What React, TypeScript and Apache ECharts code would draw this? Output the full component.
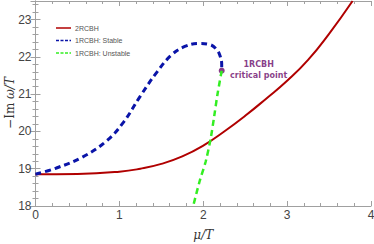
import React, { useEffect, useRef } from "react";
import * as echarts from "echarts";

const red2RCBH: [number, number][] = [
  [0, 18.85], [0.5, 18.86], [1, 18.92], [1.25, 19.0],
  [1.5, 19.13], [1.75, 19.33], [2, 19.62], [2.25, 20.0], [2.5, 20.42], [2.75, 20.88],
  [3, 21.36], [3.25, 21.92], [3.5, 22.62], [3.78, 23.5],
];
const blueStable: [number, number][] = [
  [0, 18.85], [0.25, 19.02], [0.55, 19.3], [0.85, 19.75], [1.05, 20.25], [1.25, 20.95],
  [1.45, 21.6], [1.62, 22.05], [1.78, 22.28], [1.95, 22.36], [2.08, 22.33], [2.16, 22.2],
  [2.2, 22.03], [2.22, 21.8], [2.22, 21.63],
];
const greenUnstable: [number, number][] = [
  [2.22, 21.63], [2.17, 21.0], [2.13, 20.4], [2.09, 19.83], [2.03, 19.2], [1.96, 18.69], [1.88, 18.0],
];
const criticalPoint: [number, number][] = [[2.22, 21.63]];
const legendNames = ["2RCBH", "1RCBH: Stable", "1RCBH: Unstable"];
const legendColors = ["#b00000", "#0a14a8", "#33ee22"];

export default function App() {
  const ref = useRef<HTMLDivElement>(null);
  useEffect(() => {
    const chart = echarts.init(ref.current!, null, { renderer: "svg" });
    const frame = { lineStyle: { color: "#a0a0a0", width: 1 } };
    const tick = { inside: true, length: 5, lineStyle: { color: "#a0a0a0" } };
    const minor = { show: true, splitNumber: 5, length: 3, lineStyle: { color: "#a0a0a0" } };
    const lbl = { color: "#444", fontSize: 12, fontFamily: "Liberation Sans" };
    const graphics: any[] = [];
    legendNames.forEach((n, i) => {
      const y = 28 + i * 12.5;
      graphics.push({
        type: "line",
        shape: { x1: 56, y1: y, x2: 71, y2: y },
        style: {
          stroke: legendColors[i],
          lineWidth: 1.5,
          lineDash: i === 0 ? null : [3, 1.5],
        },
      });
      graphics.push({
        type: "text",
        x: 75,
        y: y,
        style: {
          text: n, fill: "#555", fontSize: 7, fontFamily: "Liberation Sans",
          verticalAlign: "middle",
        },
      });
    });
    graphics.push({
      type: "text",
      x: 10,
      y: 103,
      rotation: Math.PI / 2,
      style: {
        text: "{a|−Im }{b|ω/T}",
        align: "center",
        verticalAlign: "middle",
        rich: {
          a: { fontFamily: "DejaVu Serif", fontSize: 12, fill: "#333" },
          b: { fontFamily: "DejaVu Serif", fontStyle: "italic", fontSize: 12, fill: "#333" },
        },
      },
    });
    chart.setOption({
      animation: false,
      grid: { left: 35.5, right: 3, top: 1, bottom: 38, outerBoundsMode: "none", containLabel: false },
      graphic: graphics,
      xAxis: [
        {
          type: "value", min: 0, max: 4, interval: 1,
          axisLine: frame, axisTick: tick, minorTick: minor, splitLine: { show: false },
          axisLabel: { ...lbl, margin: 3 },
          name: "μ/T", nameLocation: "middle", nameGap: 23,
          nameTextStyle: { fontFamily: "DejaVu Serif", fontStyle: "italic", fontSize: 12, color: "#333" },
        },
        {
          type: "value", min: 0, max: 4, interval: 1, position: "top",
          axisLine: frame, axisTick: tick, minorTick: minor, splitLine: { show: false },
          axisLabel: { show: false },
        },
      ],
      yAxis: [
        {
          type: "value", min: 18, max: 23.5, interval: 1,
          axisLine: { show: true, ...frame }, axisTick: { show: true, ...tick }, minorTick: minor,
          splitLine: { show: false },
          axisLabel: { ...lbl, margin: 4, showMaxLabel: false },
        },
        {
          type: "value", min: 18, max: 23.5, interval: 1, position: "right",
          axisLine: { show: true, ...frame }, axisTick: { show: true, ...tick }, minorTick: minor,
          splitLine: { show: false }, axisLabel: { show: false },
        },
      ],
      series: [
        {
          name: "2RCBH", type: "line", data: red2RCBH, smooth: 0.5, symbol: "none",
          lineStyle: { color: "#b00000", width: 2 }, itemStyle: { color: "#b00000" },
        },
        {
          name: "1RCBH: Stable", type: "line", data: blueStable, smooth: 0.4, symbol: "none",
          lineStyle: { color: "#0a14a8", width: 3, type: [6, 4] }, itemStyle: { color: "#0a14a8" },
        },
        {
          name: "1RCBH: Unstable", type: "line", data: greenUnstable, smooth: 0.3, symbol: "none",
          lineStyle: { color: "#33ee22", width: 2.5, type: [6, 4] }, itemStyle: { color: "#33ee22" },
        },
        {
          name: "cp", type: "scatter", data: criticalPoint, symbolSize: 6,
          itemStyle: { color: "#6a0a6a" },
          label: {
            show: true, position: "right", align: "center", offset: [29, -1],
            formatter: "1RCBH\ncritical point", color: "#6a0a6a", fontSize: 8,
            fontWeight: "bold", lineHeight: 11, fontFamily: "DejaVu Sans",
          },
        },
      ],
    });
    return () => chart.dispose();
  }, []);
  return <div ref={ref} style={{ width: 374, height: 244, position: "absolute", left: 0, top: 0 }} />;
}
